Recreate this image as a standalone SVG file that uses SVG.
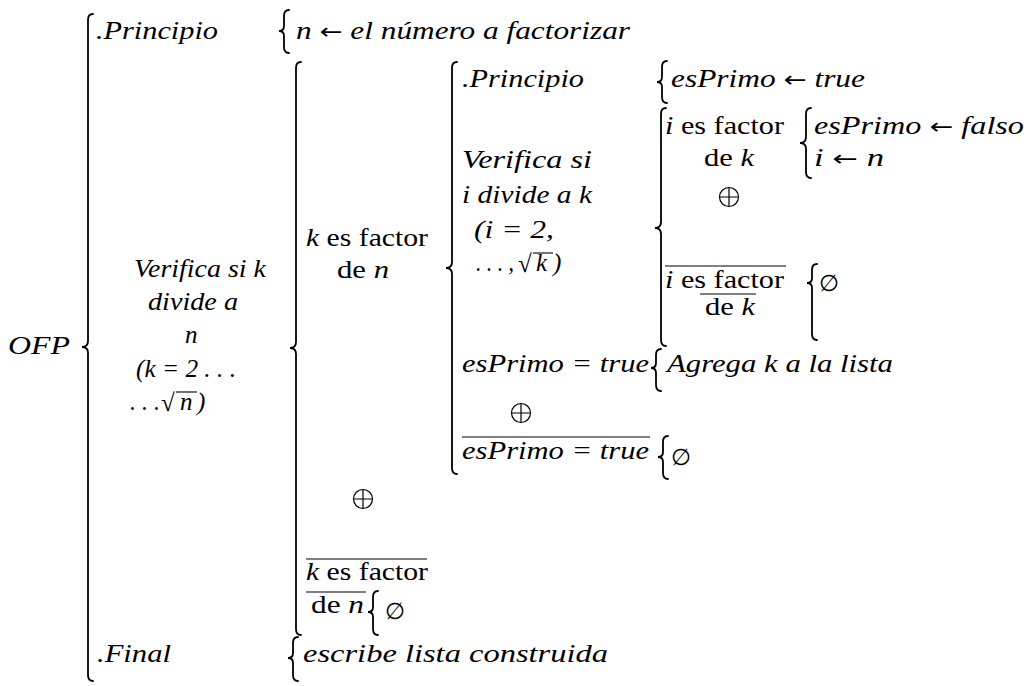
<svg xmlns="http://www.w3.org/2000/svg" width="1032" height="686" viewBox="0 0 1032 686">
<style>
.m{font-family:"Liberation Serif",serif;font-style:italic;font-size:25px;fill:#000}
.r{font-family:"Liberation Serif",serif;font-style:normal;font-size:25px;fill:#000}
.a{font-family:"DejaVu Sans",sans-serif;font-style:normal;font-size:22px}
.e{font-family:"DejaVu Sans",sans-serif;font-style:normal;font-size:23px;fill:#000}
.b{fill:none;stroke:#000;stroke-width:1.8;stroke-linecap:round}
.o{fill:none;stroke:#000;stroke-width:1.1}
.x{fill:none;stroke:#000;stroke-width:1.2}
</style>
<rect width="1032" height="686" fill="#fff"/>
<g id="connectors">
<path class="b" d="M93,14 Q88,14 88,20 V341 Q88,347 82,347 Q88,347 88,353 V675 Q88,681 93,681"/>
<path class="b" d="M289,10 Q284,10 284,16 V26 Q284,31 279,31 Q284,31 284,36 V47 Q284,53 289,53"/>
<path class="b" d="M301,62 Q296,62 296,68 V342 Q296,348 290,348 Q296,348 296,354 V629 Q296,635 301,635"/>
<path class="b" d="M457,62 Q452,62 452,68 V262 Q452,268 446,268 Q452,268 452,274 V468 Q452,474 457,474"/>
<path class="b" d="M667,61 Q662,61 662,67 V77 Q662,82 657,82 Q662,82 662,87 V97 Q662,103 667,103"/>
<path class="b" d="M666,108 Q661,108 661,114 V222 Q661,228 655,228 Q661,228 661,234 V340 Q661,346 666,346"/>
<path class="b" d="M811,108 Q806,108 806,114 V137 Q806,143 800,143 Q806,143 806,149 V172 Q806,178 811,178"/>
<path class="b" d="M817,264 Q812,264 812,270 V278 Q812,283 807,283 Q812,283 812,288 V334 Q812,340 817,340"/>
<path class="b" d="M661,349 Q656,349 656,355 V363 Q656,368 651,368 Q656,368 656,373 V385 Q656,391 661,391"/>
<path class="b" d="M668,436 Q663,436 663,442 V452 Q663,457 658,457 Q663,457 663,462 V473 Q663,479 668,479"/>
<path class="b" d="M378,591 Q373,591 373,597 V607 Q373,612 368,612 Q373,612 373,617 V629 Q373,635 378,635"/>
<path class="b" d="M298,637 Q293,637 293,643 V653 Q293,658 288,658 Q293,658 293,663 V675 Q293,681 298,681"/>
</g>
<g id="n-ofp"><text class="m" x="8" y="354" textLength="62" lengthAdjust="spacingAndGlyphs">OFP</text></g>
<g id="n-principio"><text class="m" x="96" y="39" textLength="122" lengthAdjust="spacingAndGlyphs">.Principio</text></g>
<g id="n-init"><text class="m" x="296" y="39" textLength="334" lengthAdjust="spacingAndGlyphs">n <tspan class="a">←</tspan> el número a factorizar</text></g>
<g id="n-verifica-k">
<text class="m" x="134" y="277" textLength="132" lengthAdjust="spacingAndGlyphs">Verifica si k</text>
<text class="m" x="148" y="310" textLength="90" lengthAdjust="spacingAndGlyphs">divide a</text>
<text class="m" x="185" y="343">n</text>
<text class="m" x="136" y="377" textLength="100" lengthAdjust="spacingAndGlyphs">(k = 2 . . .</text>
<text class="m" x="130" y="410" textLength="30" lengthAdjust="spacingAndGlyphs">. . .</text>
<text class="r" x="161" y="411">√</text>
<line class="o" x1="176" y1="392" x2="197" y2="392"/>
<text class="m" x="180" y="410">n</text>
<text class="m" x="197" y="410">)</text>
</g>
<g id="n-kfactor">
<text class="r" x="306" y="246" textLength="122" lengthAdjust="spacingAndGlyphs"><tspan class="m">k</tspan> es factor</text>
<text class="r" x="337" y="278" textLength="52" lengthAdjust="spacingAndGlyphs">de <tspan class="m">n</tspan></text>
</g>
<g id="n-principio2"><text class="m" x="462" y="87" textLength="122" lengthAdjust="spacingAndGlyphs">.Principio</text></g>
<g id="n-esprimo-true"><text class="m" x="671" y="87" textLength="194" lengthAdjust="spacingAndGlyphs">esPrimo <tspan class="a">←</tspan> true</text></g>
<g id="n-verifica-i">
<text class="m" x="462" y="168" textLength="130" lengthAdjust="spacingAndGlyphs">Verifica si</text>
<text class="m" x="462" y="203" textLength="130" lengthAdjust="spacingAndGlyphs">i divide a k</text>
<text class="m" x="474" y="238" textLength="80" lengthAdjust="spacingAndGlyphs">(i = 2,</text>
<text class="m" x="476" y="271" textLength="38" lengthAdjust="spacingAndGlyphs">. . . ,</text>
<text class="r" x="518" y="272">√</text>
<line class="o" x1="533" y1="253" x2="553" y2="253"/>
<text class="m" x="536" y="271">k</text>
<text class="m" x="553" y="271">)</text>
</g>
<g id="n-ifactor">
<text class="r" x="665" y="134" textLength="119" lengthAdjust="spacingAndGlyphs"><tspan class="m">i</tspan> es factor</text>
<text class="r" x="704" y="166" textLength="50" lengthAdjust="spacingAndGlyphs">de <tspan class="m">k</tspan></text>
</g>
<g id="n-ifactor-actions">
<text class="m" x="814" y="134" textLength="210" lengthAdjust="spacingAndGlyphs">esPrimo <tspan class="a">←</tspan> falso</text>
<text class="m" x="814" y="166" textLength="70" lengthAdjust="spacingAndGlyphs">i <tspan class="a">←</tspan> n</text>
</g>
<g id="n-xor1"><circle class="x" cx="729" cy="197" r="9.5"/><path class="x" d="M719.5,197 H738.5 M729,187.5 V206.5"/></g>
<g id="n-not-ifactor">
<line class="o" x1="665" y1="266" x2="786" y2="266"/>
<text class="r" x="665" y="288" textLength="119" lengthAdjust="spacingAndGlyphs"><tspan class="m">i</tspan> es factor</text>
<line class="o" x1="700" y1="294" x2="756" y2="294"/>
<text class="r" x="705" y="315" textLength="50" lengthAdjust="spacingAndGlyphs">de <tspan class="m">k</tspan></text>
</g>
<g id="n-empty1"><text class="e" x="819" y="291">∅</text></g>
<g id="n-esprimo-cond"><text class="m" x="462" y="372" textLength="187" lengthAdjust="spacingAndGlyphs">esPrimo = true</text></g>
<g id="n-agrega"><text class="m" x="667" y="372" textLength="226" lengthAdjust="spacingAndGlyphs">Agrega k a la lista</text></g>
<g id="n-xor2"><circle class="x" cx="521" cy="413" r="9.5"/><path class="x" d="M511.5,413 H530.5 M521,403.5 V422.5"/></g>
<g id="n-not-esprimo">
<line class="o" x1="462" y1="437" x2="650" y2="437"/>
<text class="m" x="462" y="459" textLength="187" lengthAdjust="spacingAndGlyphs">esPrimo = true</text>
</g>
<g id="n-empty2"><text class="e" x="671" y="465">∅</text></g>
<g id="n-xor3"><circle class="x" cx="363" cy="499" r="9.5"/><path class="x" d="M353.5,499 H372.5 M363,489.5 V508.5"/></g>
<g id="n-not-kfactor">
<line class="o" x1="306" y1="559" x2="427" y2="559"/>
<text class="r" x="306" y="580" textLength="122" lengthAdjust="spacingAndGlyphs"><tspan class="m">k</tspan> es factor</text>
<line class="o" x1="306" y1="592" x2="366" y2="592"/>
<text class="r" x="311" y="613" textLength="53" lengthAdjust="spacingAndGlyphs">de <tspan class="m">n</tspan></text>
</g>
<g id="n-empty3"><text class="e" x="385" y="619">∅</text></g>
<g id="n-final"><text class="m" x="97" y="662" textLength="74" lengthAdjust="spacingAndGlyphs">.Final</text></g>
<g id="n-escribe"><text class="m" x="303" y="662" textLength="305" lengthAdjust="spacingAndGlyphs">escribe lista construida</text></g>
</svg>
